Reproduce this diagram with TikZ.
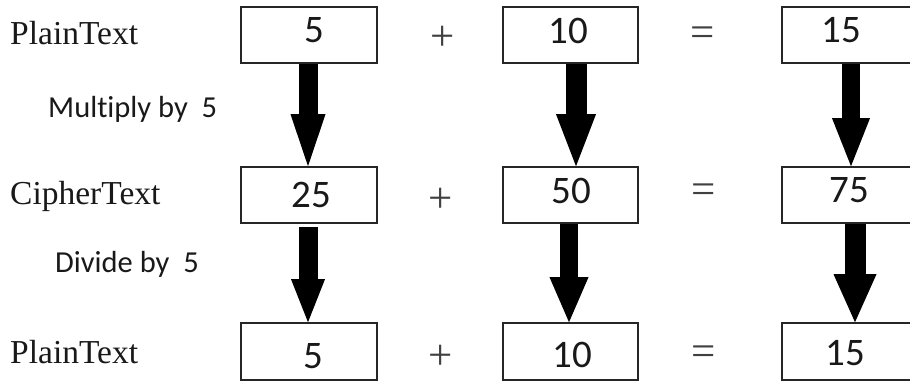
\documentclass[tikz,border=0pt]{standalone}
\usepackage{fontspec}
\setmainfont{Liberation Serif}
\newfontfamily\digitfont[Ligatures=NoCommon]{Carlito}
\usetikzlibrary{arrows.meta}
\tikzset{
  box/.style={draw=black!85, line width=1.6pt, minimum width=136pt, inner sep=0pt},
  rowa/.style={minimum height=56pt},
  rowc/.style={minimum height=57pt},
  num/.style={font=\digitfont\fontsize{39}{40}\selectfont, inner sep=0pt, text=black!90},
  rowlabel/.style={font=\fontsize{33.5}{34}\selectfont, anchor=base west, inner sep=0pt, text=black!90},
  oplabel/.style={font=\digitfont\fontsize{30.5}{32}\selectfont, anchor=base west, inner sep=0pt, text=black!90},
  opsign/.style={font=\fontsize{43}{44}\selectfont, inner sep=0pt, text=black!75},
  bigarrow/.style args={#1/#2/#3}{line width=#1, draw=black,
    -{Triangle[width=#2, length=#3, line width=0pt]}}
}
\begin{document}
\begin{tikzpicture}[x=1pt, y=-1pt]
\useasboundingbox (0,0) rectangle (910,382);
\clip (0,0) rectangle (910,382);
% row labels
\node[rowlabel] (l1) at (10,45) {PlainText};
\node[rowlabel] (l2) at (10,205) {CipherText};
\node[rowlabel] (l3) at (10,363) {PlainText};
\node[oplabel] (m1) at (48,118) {Multiply by\ \ 5};
\node[oplabel] (m2) at (55,272) {Divide by\ \ 5};
% boxes
\node[box, rowa] (b11) at (309,35) {};
\node[box, rowa, minimum width=135pt] (b12) at (570.5,35) {};
\node[box, rowa] (b13) at (850,35) {};
\node[box, rowa] (b21) at (309,195) {};
\node[box, rowa, minimum width=135pt] (b22) at (570.5,195) {};
\node[box, rowa] (b23) at (850,195) {};
\node[box, rowc] (b31) at (309,351.5) {};
\node[box, rowc, minimum width=135pt] (b32) at (570.5,351.5) {};
\node[box, rowc] (b33) at (850,351.5) {};
% numbers
\node[num] (t11) at (314,30.5) {5};
\node[num] (t12) at (568.5,30.5) {10};
\node[num] (t13) at (841.5,30.5) {15};
\node[num] (t21) at (311,195) {25};
\node[num] (t22) at (571,190.5) {50};
\node[num] (t23) at (849,190) {75};
\node[num] (t31) at (313,356) {5};
\node[num] (t32) at (572,355) {10};
\node[num] (t33) at (845,353.5) {15};
% operators
\node[opsign] (p1) at (443,38) {+};
\node[opsign] (p2) at (441,200) {+};
\node[opsign] (p3) at (441,357) {+};
\node[opsign] (e1) at (703,37) {=};
\node[opsign] (e2) at (704,194) {=};
\node[opsign] (e3) at (704,356) {=};
% arrows
\draw[bigarrow=19pt/35pt/52pt] ([xshift=-1pt]b11.south) -- ([xshift=-1pt]b21.north);
\draw[bigarrow=21pt/40pt/52pt] ([xshift=5.5pt]b12.south) -- ([xshift=5.5pt]b22.north);
\draw[bigarrow=18pt/38pt/48pt] ([xshift=1pt]b13.south) -- ([xshift=1pt]b23.north);
\draw[bigarrow=19pt/34pt/43pt] ([xshift=-1pt,yshift=-3pt]b21.south) -- ([xshift=-1pt]b31.north);
\draw[bigarrow=18pt/39pt/45pt] ([xshift=-1.5pt]b22.south) -- ([xshift=-1.5pt]b32.north);
\draw[bigarrow=21pt/43pt/48pt] ([xshift=5pt]b23.south) -- ([xshift=5pt]b33.north);
\end{tikzpicture}
\end{document}
